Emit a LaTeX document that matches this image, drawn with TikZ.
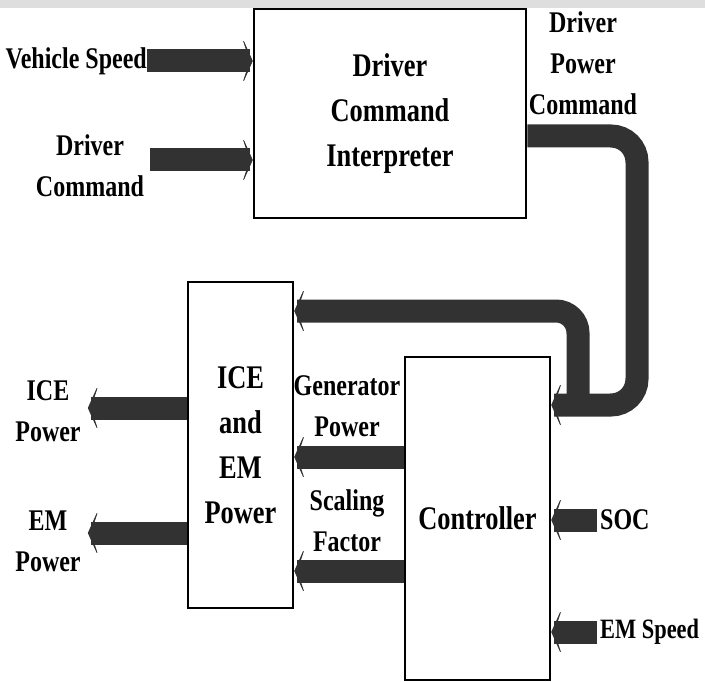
\documentclass[tikz,border=0pt]{standalone}
\usepackage{fontspec}
\setmainfont{Liberation Serif}[FakeStretch=0.8]
\usepackage{tikz}
\usetikzlibrary{arrows.meta,positioning,calc}
\definecolor{shaftGray}{RGB}{50,50,50}
\definecolor{stripGray}{RGB}{222,222,222}

\begin{document}
\begin{tikzpicture}[x=1pt,y=-1pt,
        box/.style={draw,line width=2.5pt,align=center,font=\fontsize{33}{45}\selectfont\bfseries},
        lbl/.style={align=center,inner sep=0pt,font=\fontsize{30}{41}\selectfont\bfseries},
        fat/.style={draw=shaftGray,line width=23pt,-{Stealth[length=12pt,width=54pt,inset=9pt]}}
      ]
        \useasboundingbox (0,0) rectangle (705,682);
        \fill[stripGray] (0,0) rectangle (705,8);

        \node[box,minimum width=272pt,minimum height=209pt] (dci) at (390,113.5) {Driver\\Command\\Interpreter};
        \node[box,minimum width=105pt,minimum height=326pt] (ice) at (240.5,445) {ICE\\and\\EM\\Power};
        \node[box,minimum width=145pt,minimum height=323pt] (ctrl) at (477.5,518.5) {Controller};

        \node[lbl,anchor=east] (vspeed) at (147,61) {Vehicle Speed};
        \node[lbl] (dcmd) at (90,166) {Driver\\Command};
        \node[lbl] (dpc) at (583,63) {Driver\\Power\\Command};
        \node[lbl] (icep) at (48,411) {ICE\\Power};
        \node[lbl] (emp) at (48,541) {EM\\Power};
        \node[lbl] (gen) at (347,406) {Generator\\Power};
        \node[lbl] (scale) at (347,521) {Scaling\\Factor};
        \node[lbl,anchor=west] (soc) at (600,520) {SOC};
        \node[lbl,anchor=west,font=\fontsize{28}{38}\selectfont\bfseries] (emspeed) at (600,632) {EM Speed};

        \coordinate (dcmdin) at (150,160);
        \coordinate (split) at (578,410);

        \draw[fat] (vspeed.east) -- (vspeed.east -| dci.west);
        \draw[fat] (dcmdin) -- (dcmdin -| dci.west);
        \draw[fat,rounded corners=26pt] (dci.east |- 0,136) -- (637,136) -- (637,405) -- (ctrl.east |- 0,405);
        \draw[fat,rounded corners=22pt] (split) -- (578,311) -- (ice.east |- 0,311);
        \draw[fat] (ctrl.west |- 0,457) -- (ice.east |- 0,457);
        \draw[fat] (ctrl.west |- 0,571) -- (ice.east |- 0,571);
        \draw[fat] (ice.west |- 0,408) -- ([xshift=7pt]icep.east |- 0,408);
        \draw[fat] (ice.west |- 0,533) -- ([xshift=7pt]emp.east |- 0,533);
        \draw[fat] ([xshift=-3pt]soc.west) -- (soc.west -| ctrl.east);
        \draw[fat] ([xshift=-3pt]emspeed.west |- 0,632) -- (ctrl.east |- 0,632);
      \end{tikzpicture}
\end{document}
